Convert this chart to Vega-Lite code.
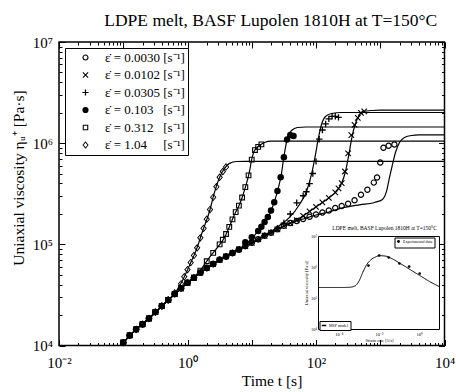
{
"$schema": "https://vega.github.io/schema/vega-lite/v6.json",
"padding": {"left": 11, "top": 11, "right": 0, "bottom": 0},
"width": 385.5,
"height": 303.5,
"config": {
  "font": "Liberation Serif",
  "view": {"stroke": "black", "strokeWidth": 1.5},
  "axis": {"labelColor": "black", "titleColor": "black", "tickColor": "black", "labelFont": "Liberation Serif", "titleFont": "Liberation Serif", "titleFontWeight": "normal", "grid": false, "minExtent": 0}
},
"title": {"text": "LDPE melt, BASF Lupolen 1810H at T=150°C", "font": "Liberation Serif", "fontSize": 17.5, "fontWeight": "normal", "color": "black", "anchor": "middle", "frame": "group", "dx": 19, "offset": -8, "baseline": "alphabetic"},
"datasets": {
"pts": [
{"s":"a","t":0.1,"v":10700},{"s":"a","t":0.1259,"v":12590},{"s":"a","t":0.1585,"v":14450},{"s":"a","t":0.1995,"v":16220},{"s":"a","t":0.2512,"v":18490},{"s":"a","t":0.3162,"v":21380},{"s":"a","t":0.3981,"v":24550},{"s":"a","t":0.5012,"v":28180},{"s":"a","t":0.631,"v":32210},{"s":"a","t":0.7943,"v":36810},{"s":"a","t":1,"v":41690},{"s":"a","t":1.259,"v":46770},{"s":"a","t":1.585,"v":52480},{"s":"a","t":1.995,"v":58210},{"s":"a","t":2.512,"v":63830},{"s":"a","t":3.162,"v":70310},{"s":"a","t":3.981,"v":75860},{"s":"a","t":5.012,"v":82220},{"s":"a","t":6.31,"v":89130},{"s":"a","t":7.943,"v":96160},{"s":"a","t":10,"v":103500},{"s":"a","t":12.59,"v":112200},{"s":"a","t":15.85,"v":121600},{"s":"a","t":19.95,"v":130300},{"s":"a","t":25.12,"v":140600},{"s":"a","t":31.62,"v":152400},{"s":"a","t":39.81,"v":162200},{"s":"a","t":50.12,"v":169800},{"s":"a","t":63.1,"v":177800},
{"s":"a","t":79.43,"v":187100},{"s":"a","t":100,"v":197200},{"s":"a","t":125.9,"v":206500},{"s":"a","t":158.5,"v":216300},{"s":"a","t":199.5,"v":229100},{"s":"a","t":251.2,"v":239900},{"s":"a","t":316.2,"v":251200},{"s":"a","t":398.1,"v":272300},{"s":"a","t":501.2,"v":309000},{"s":"a","t":631,"v":346700},{"s":"a","t":794.3,"v":407400},{"s":"a","t":891.3,"v":457100},{"s":"a","t":1000,"v":645700},{"s":"a","t":1122,"v":901600},{"s":"a","t":1349,"v":944100},{"s":"a","t":1660,"v":970500},
{"s":"b","t":0.1,"v":10700},{"s":"b","t":0.1259,"v":12590},{"s":"b","t":0.1585,"v":14450},{"s":"b","t":0.1995,"v":16220},{"s":"b","t":0.2512,"v":18490},{"s":"b","t":0.3162,"v":21380},{"s":"b","t":0.3981,"v":24550},{"s":"b","t":0.5012,"v":28180},{"s":"b","t":0.631,"v":32210},{"s":"b","t":0.7943,"v":36810},{"s":"b","t":1,"v":41690},{"s":"b","t":1.259,"v":46770},{"s":"b","t":1.585,"v":52480},{"s":"b","t":1.995,"v":58210},{"s":"b","t":2.512,"v":63830},{"s":"b","t":3.162,"v":70310},{"s":"b","t":3.981,"v":75860},{"s":"b","t":5.012,"v":82220},{"s":"b","t":6.31,"v":89130},{"s":"b","t":7.943,"v":96160},{"s":"b","t":10,"v":103500},{"s":"b","t":12.59,"v":112200},{"s":"b","t":15.85,"v":121600},{"s":"b","t":19.95,"v":130300},{"s":"b","t":25.12,"v":140600},{"s":"b","t":31.62,"v":152400},{"s":"b","t":39.81,"v":162200},
{"s":"b","t":50.12,"v":173800},{"s":"b","t":63.1,"v":191000},{"s":"b","t":79.43,"v":211300},{"s":"b","t":100,"v":234400},{"s":"b","t":125.9,"v":259400},{"s":"b","t":158.5,"v":287700},{"s":"b","t":199.5,"v":325800},{"s":"b","t":223.9,"v":358100},{"s":"b","t":251.2,"v":402700},{"s":"b","t":281.8,"v":524800},{"s":"b","t":316.2,"v":794300},{"s":"b","t":354.8,"v":1202000},{"s":"b","t":398.1,"v":1514000},{"s":"b","t":446.7,"v":1778000},{"s":"b","t":501.2,"v":1995000},{"s":"b","t":562.3,"v":2065000},
{"s":"c","t":0.1,"v":10700},{"s":"c","t":0.1259,"v":12590},{"s":"c","t":0.1585,"v":14450},{"s":"c","t":0.1995,"v":16220},{"s":"c","t":0.2512,"v":18490},{"s":"c","t":0.3162,"v":21380},{"s":"c","t":0.3981,"v":24550},{"s":"c","t":0.5012,"v":28180},{"s":"c","t":0.631,"v":32210},{"s":"c","t":0.7943,"v":36810},{"s":"c","t":1,"v":41690},{"s":"c","t":1.259,"v":46770},{"s":"c","t":1.585,"v":52480},{"s":"c","t":1.995,"v":58210},{"s":"c","t":2.512,"v":63830},{"s":"c","t":3.162,"v":70310},{"s":"c","t":3.981,"v":75860},{"s":"c","t":5.012,"v":82220},{"s":"c","t":6.31,"v":89130},{"s":"c","t":7.943,"v":96160},{"s":"c","t":10,"v":103500},{"s":"c","t":12.59,"v":112200},{"s":"c","t":15.85,"v":121600},{"s":"c","t":19.95,"v":130300},
{"s":"c","t":25.12,"v":144500},{"s":"c","t":31.62,"v":162200},{"s":"c","t":39.81,"v":199500},{"s":"c","t":50.12,"v":257000},{"s":"c","t":63.1,"v":302000},{"s":"c","t":70.79,"v":331100},{"s":"c","t":79.43,"v":398100},{"s":"c","t":89.13,"v":501200},{"s":"c","t":100,"v":660700},{"s":"c","t":112.2,"v":1096000},{"s":"c","t":125.9,"v":1349000},{"s":"c","t":141.3,"v":1549000},{"s":"c","t":158.5,"v":1738000},{"s":"c","t":177.8,"v":1841000},{"s":"c","t":199.5,"v":1841000},{"s":"c","t":223.9,"v":1799000},
{"s":"d","t":0.1,"v":10700},{"s":"d","t":0.1259,"v":12590},{"s":"d","t":0.1585,"v":14450},{"s":"d","t":0.1995,"v":16220},{"s":"d","t":0.2512,"v":18490},{"s":"d","t":0.3162,"v":21380},{"s":"d","t":0.3981,"v":24550},{"s":"d","t":0.5012,"v":28180},{"s":"d","t":0.631,"v":32210},{"s":"d","t":0.7943,"v":36810},{"s":"d","t":1,"v":41690},{"s":"d","t":1.259,"v":46770},{"s":"d","t":1.585,"v":52480},{"s":"d","t":1.995,"v":58210},{"s":"d","t":2.512,"v":63830},{"s":"d","t":3.162,"v":70310},{"s":"d","t":3.981,"v":75860},{"s":"d","t":5.012,"v":82220},{"s":"d","t":6.31,"v":89130},
{"s":"d","t":7.943,"v":104700},{"s":"d","t":10,"v":117200},{"s":"d","t":12.59,"v":135800},{"s":"d","t":14.13,"v":148900},{"s":"d","t":15.85,"v":166000},{"s":"d","t":17.78,"v":185800},{"s":"d","t":19.95,"v":216300},{"s":"d","t":22.39,"v":261200},{"s":"d","t":25.12,"v":336500},{"s":"d","t":28.18,"v":460300},{"s":"d","t":31.62,"v":727800},{"s":"d","t":35.48,"v":1089000},{"s":"d","t":39.81,"v":1202000},{"s":"d","t":44.67,"v":1175000},
{"s":"e","t":0.1,"v":10700},{"s":"e","t":0.1259,"v":12590},{"s":"e","t":0.1585,"v":14450},{"s":"e","t":0.1995,"v":16220},{"s":"e","t":0.2512,"v":18490},{"s":"e","t":0.3162,"v":21380},{"s":"e","t":0.3981,"v":24550},{"s":"e","t":0.5012,"v":28180},{"s":"e","t":0.631,"v":32210},{"s":"e","t":0.7943,"v":36810},{"s":"e","t":1,"v":41690},{"s":"e","t":1.259,"v":46770},
{"s":"e","t":1.585,"v":54950},{"s":"e","t":1.995,"v":68080},{"s":"e","t":2.512,"v":82410},{"s":"e","t":3.162,"v":100000},{"s":"e","t":3.548,"v":110900},{"s":"e","t":3.981,"v":126500},{"s":"e","t":4.467,"v":148600},{"s":"e","t":5.012,"v":176600},{"s":"e","t":5.623,"v":208000},{"s":"e","t":6.31,"v":241000},{"s":"e","t":7.079,"v":290400},{"s":"e","t":7.943,"v":367300},{"s":"e","t":8.913,"v":480800},{"s":"e","t":10,"v":687100},{"s":"e","t":11.22,"v":855100},{"s":"e","t":12.59,"v":920400},{"s":"e","t":14.13,"v":972800},
{"s":"f","t":0.1,"v":10700},{"s":"f","t":0.1259,"v":12590},{"s":"f","t":0.1585,"v":14450},{"s":"f","t":0.1995,"v":16220},{"s":"f","t":0.2512,"v":18490},{"s":"f","t":0.3162,"v":21380},{"s":"f","t":0.3981,"v":24550},{"s":"f","t":0.5012,"v":28180},
{"s":"f","t":0.631,"v":33110},{"s":"f","t":0.7943,"v":40740},{"s":"f","t":0.8913,"v":47860},{"s":"f","t":1,"v":56230},{"s":"f","t":1.122,"v":66070},{"s":"f","t":1.259,"v":77620},{"s":"f","t":1.413,"v":92260},{"s":"f","t":1.585,"v":115900},{"s":"f","t":1.778,"v":143900},{"s":"f","t":1.995,"v":177400},{"s":"f","t":2.239,"v":220800},{"s":"f","t":2.512,"v":291700},{"s":"f","t":2.818,"v":371500},{"s":"f","t":3.162,"v":460300},{"s":"f","t":3.548,"v":524800},{"s":"f","t":3.981,"v":582100}
],
"model": [
{"s":"a","t":0.1,"v":10700},{"s":"a","t":0.1585,"v":14450},{"s":"a","t":0.2512,"v":18490},{"s":"a","t":0.3981,"v":24550},{"s":"a","t":0.631,"v":32210},{"s":"a","t":1,"v":41690},{"s":"a","t":1.585,"v":52480},{"s":"a","t":2.512,"v":63830},{"s":"a","t":3.981,"v":75860},{"s":"a","t":6.31,"v":89130},{"s":"a","t":10,"v":103500},{"s":"a","t":15.85,"v":121600},{"s":"a","t":25.12,"v":140600},{"s":"a","t":39.81,"v":162200},{"s":"a","t":63.1,"v":177800},{"s":"a","t":100,"v":195000},{"s":"a","t":158.5,"v":208900},{"s":"a","t":251.2,"v":228000},{"s":"a","t":475.3,"v":246000},{"s":"a","t":814.7,"v":259400},{"s":"a","t":1084,"v":278000},{"s":"a","t":1250,"v":333400},{"s":"a","t":1393,"v":458100},{"s":"a","t":1552,"v":616600},{"s":"a","t":1726,"v":809100},{"s":"a","t":1995,"v":1016000},{"s":"a","t":2382,"v":1138000},{"s":"a","t":3062,"v":1191000},{"s":"a","t":4000,"v":1205000},{"s":"a","t":10000,"v":1205000},
{"s":"b","t":0.1,"v":10700},{"s":"b","t":0.1585,"v":14450},{"s":"b","t":0.2512,"v":18490},{"s":"b","t":0.3981,"v":24550},{"s":"b","t":0.631,"v":32210},{"s":"b","t":1,"v":41690},{"s":"b","t":1.585,"v":52480},{"s":"b","t":2.512,"v":63830},{"s":"b","t":3.981,"v":75860},{"s":"b","t":6.31,"v":89130},{"s":"b","t":10,"v":103500},{"s":"b","t":15.85,"v":121600},{"s":"b","t":25.12,"v":140600},{"s":"b","t":39.81,"v":162200},{"s":"b","t":55.34,"v":180300},{"s":"b","t":79.25,"v":211300},{"s":"b","t":113.2,"v":247700},{"s":"b","t":162.2,"v":290400},{"s":"b","t":208.4,"v":333400},{"s":"b","t":249.5,"v":399900},{"s":"b","t":287.7,"v":524800},{"s":"b","t":320.6,"v":739600},{"s":"b","t":357.3,"v":1089000},{"s":"b","t":397.2,"v":1462000},{"s":"b","t":458.1,"v":1837000},{"s":"b","t":548.3,"v":2056000},{"s":"b","t":731.1,"v":2104000},{"s":"b","t":1000,"v":2118000},{"s":"b","t":10000,"v":2118000},
{"s":"c","t":0.1,"v":10700},{"s":"c","t":0.1585,"v":14450},{"s":"c","t":0.2512,"v":18490},{"s":"c","t":0.3981,"v":24550},{"s":"c","t":0.631,"v":32210},{"s":"c","t":1,"v":41690},{"s":"c","t":1.585,"v":52480},{"s":"c","t":2.512,"v":63830},{"s":"c","t":3.981,"v":75860},{"s":"c","t":6.31,"v":89130},{"s":"c","t":10,"v":103500},{"s":"c","t":15.85,"v":121600},{"s":"c","t":27.04,"v":153800},{"s":"c","t":38.73,"v":184500},{"s":"c","t":55.34,"v":247700},{"s":"c","t":71.12,"v":333400},{"s":"c","t":85.11,"v":490900},{"s":"c","t":98.17,"v":772700},{"s":"c","t":109.4,"v":1138000},{"s":"c","t":121.9,"v":1531000},{"s":"c","t":140.6,"v":1837000},{"s":"c","t":174.2,"v":1963000},{"s":"c","t":250,"v":2009000},{"s":"c","t":10000,"v":2009000},
{"s":"d","t":0.1,"v":10700},{"s":"d","t":0.1585,"v":14450},{"s":"d","t":0.2512,"v":18490},{"s":"d","t":0.3981,"v":24550},{"s":"d","t":0.631,"v":32210},{"s":"d","t":1,"v":41690},{"s":"d","t":1.585,"v":52480},{"s":"d","t":2.512,"v":63830},{"s":"d","t":3.981,"v":75860},{"s":"d","t":6.31,"v":89130},{"s":"d","t":7.709,"v":97000},{"s":"d","t":11.04,"v":122500},{"s":"d","t":14.69,"v":153800},{"s":"d","t":18.88,"v":197200},{"s":"d","t":22.59,"v":265500},{"s":"d","t":26.06,"v":364800},{"s":"d","t":29.04,"v":502300},{"s":"d","t":31.19,"v":690200},{"s":"d","t":33.5,"v":907800},{"s":"d","t":35.97,"v":1138000},{"s":"d","t":41.59,"v":1334000},{"s":"d","t":51.52,"v":1429000},{"s":"d","t":70,"v":1445000},{"s":"d","t":10000,"v":1445000},
{"s":"e","t":0.1,"v":10700},{"s":"e","t":0.1585,"v":14450},{"s":"e","t":0.2512,"v":18490},{"s":"e","t":0.3981,"v":24550},{"s":"e","t":0.631,"v":32210},{"s":"e","t":1,"v":41690},{"s":"e","t":1.538,"v":53950},{"s":"e","t":2.198,"v":74300},{"s":"e","t":2.931,"v":93110},{"s":"e","t":3.767,"v":117000},{"s":"e","t":4.508,"v":150300},{"s":"e","t":5.395,"v":197200},{"s":"e","t":6.442,"v":247700},{"s":"e","t":7.178,"v":297200},{"s":"e","t":8.279,"v":399900},{"s":"e","t":9.226,"v":524800},{"s":"e","t":9.908,"v":674500},{"s":"e","t":11.04,"v":847200},{"s":"e","t":13.21,"v":948400},{"s":"e","t":15.78,"v":1016000},{"s":"e","t":20,"v":1047000},{"s":"e","t":10000,"v":1047000},
{"s":"f","t":0.1,"v":10700},{"s":"f","t":0.1585,"v":14450},{"s":"f","t":0.2512,"v":18490},{"s":"f","t":0.3981,"v":24550},{"s":"f","t":0.631,"v":32500},{"s":"f","t":0.836,"v":43950},{"s":"f","t":1.074,"v":61940},{"s":"f","t":1.38,"v":89130},{"s":"f","t":1.71,"v":134000},{"s":"f","t":2.198,"v":211300},{"s":"f","t":2.63,"v":325800},{"s":"f","t":3.148,"v":458100},{"s":"f","t":3.767,"v":562300},{"s":"f","t":4.508,"v":631000},{"s":"f","t":5.794,"v":659200},{"s":"f","t":7.943,"v":660700},{"s":"f","t":10000,"v":660700}
],
"iModel": [
{"r":0.00001,"v":226500},{"r":0.0001,"v":226500},{"r":0.000316,"v":229100},{"r":0.000631,"v":251200},{"r":0.001,"v":354800},{"r":0.001585,"v":707900},{"r":0.002512,"v":1259000},{"r":0.003981,"v":1778000},{"r":0.00631,"v":2138000},{"r":0.01,"v":2399000},{"r":0.01995,"v":2344000},{"r":0.03981,"v":1995000},{"r":0.1,"v":1413000},{"r":0.3162,"v":891300},{"r":1,"v":562300},{"r":3.162,"v":354800},{"r":10,"v":239900}
],
"iData": [
{"r":0.003,"v":1150000},{"r":0.0102,"v":2440000},{"r":0.0305,"v":2100000},{"r":0.103,"v":1350000},{"r":0.312,"v":1070000},{"r":1.04,"v":640000}
],
"iBox": [
{"x1":0.00001,"x2":10,"y1":10000,"y2":10000000,"title":"LDPE melt, BASF Lupolen 1810H at T=150°C","tx":0.019}
]
},
"layer": [
  {
    "data": {"name": "model"},
    "mark": {"type": "line", "color": "black", "strokeWidth": 1.2, "interpolate": "monotone", "clip": true},
    "encoding": {
      "x": {"field": "t", "type": "quantitative", "scale": {"type": "log", "domain": [0.01, 10000], "nice": false},
            "axis": {"orient": "bottom", "values": [0.01, 1, 100, 10000], "labelExpr": "datum.value < 0.1 ? '10⁻²' : datum.value < 10 ? '10⁰' : datum.value < 1000 ? '10²' : '10⁴'", "ticks": false, "domain": false, "labelFontSize": 15, "labelBaseline": "alphabetic", "labelPadding": 22, "labelFlush": false, "labelOverlap": false, "title": "Time t [s]", "titleFontSize": 15.5, "titleX": 212.5, "titleY": 40, "titleBaseline": "alphabetic"}},
      "y": {"field": "v", "type": "quantitative", "scale": {"type": "log", "domain": [10000, 10000000], "nice": false},
            "axis": {"orient": "left", "values": [10000, 100000, 1000000, 10000000], "labelExpr": "datum.value < 50000 ? '10⁴' : datum.value < 500000 ? '10⁵' : datum.value < 5000000 ? '10⁶' : '10⁷'", "ticks": false, "domain": false, "labelFontSize": 15, "labelBaseline": "alphabetic", "labelOffset": 5, "labelPadding": 6.5, "labelFlush": false, "labelOverlap": false, "title": "Uniaxial viscosity \u03b7\u1d64\u207a [Pa\u00b7s]", "titleFontSize": 15.5, "titleX": -35.5, "titleY": 135.5, "titleBaseline": "alphabetic"}},
      "detail": {"field": "s", "type": "nominal"}
    }
  },
  {
    "data": {"name": "pts"},
    "mark": {"type": "point", "filled": true, "size": 42, "color": "black", "opacity": 1},
    "encoding": {
      "x": {"field": "t", "type": "quantitative", "scale": {"type": "log", "domain": [0.01, 10000], "nice": false},
            "axis": {"orient": "bottom", "values": [0.01,0.02,0.03,0.04,0.05,0.06,0.07,0.08,0.09,0.1,0.2,0.3,0.4,0.5,0.6,0.7,0.8,0.9,1,2,3,4,5,6,7,8,9,10,20,30,40,50,60,70,80,90,100,200,300,400,500,600,700,800,900,1000,2000,3000,4000,5000,6000,7000,8000,9000,10000], "labels": false, "domain": false, "title": null, "tickColor": "black", "tickWidth": 1, "tickSize": {"condition": {"test": "abs(log(datum.value)/LN10 - round(log(datum.value)/LN10)) < 0.01", "value": -6}, "value": -3}}},
      "y": {"field": "v", "type": "quantitative", "scale": {"type": "log", "domain": [10000, 10000000], "nice": false},
            "axis": {"orient": "left", "values": [10000,20000,30000,40000,50000,60000,70000,80000,90000,100000,200000,300000,400000,500000,600000,700000,800000,900000,1000000,2000000,3000000,4000000,5000000,6000000,7000000,8000000,9000000,10000000], "labels": false, "domain": false, "title": null, "tickColor": "black", "tickWidth": 1, "tickSize": {"condition": {"test": "abs(log(datum.value)/LN10 - round(log(datum.value)/LN10)) < 0.01", "value": -6}, "value": -3}}},
      "shape": {"field": "s", "type": "nominal",
                "scale": {"domain": ["a","b","c","d","e","f"], "range": [
                  "M1,0A1,1,0,1,0,-1,0A1,1,0,1,0,1,0ZM0.62,0A0.62,0.62,0,1,1,-0.62,0A0.62,0.62,0,1,1,0.62,0Z",
                  "M-0.73,-0.97L0.97,0.73L0.73,0.97L-0.97,-0.73ZM-0.97,0.73L0.73,-0.97L0.97,-0.73L-0.73,0.97Z",
                  "M-1,-0.2L1,-0.2L1,0.2L-1,0.2ZM-0.2,-1L0.2,-1L0.2,1L-0.2,1Z",
                  "circle",
                  "M-0.9,-0.9L0.9,-0.9L0.9,0.9L-0.9,0.9ZM-0.56,-0.56L-0.56,0.56L0.56,0.56L0.56,-0.56Z",
                  "M0,-1.2L1,0L0,1.2L-1,0ZM0,-0.76L-0.63,0L0,0.76L0.63,0Z"]},
                "legend": {"title": null, "orient": "top-left", "offset": 5.5, "padding": 3, "strokeColor": "black", "fillColor": "white", "labelFont": "Liberation Serif", "labelFontSize": 13, "labelColor": "black", "labelLimit": 300, "symbolSize": 38, "symbolFillColor": "black", "symbolStrokeWidth": 0, "symbolOffset": 11, "labelOffset": 13, "rowPadding": 3.5,
                           "labelExpr": "datum.label == 'a' ? '\u03b5\u0307 = 0.0030 [s\u207b\u00b9]' : datum.label == 'b' ? '\u03b5\u0307 = 0.0102 [s\u207b\u00b9]' : datum.label == 'c' ? '\u03b5\u0307 = 0.0305 [s\u207b\u00b9]' : datum.label == 'd' ? '\u03b5\u0307 = 0.103\u2007 [s\u207b\u00b9]' : datum.label == 'e' ? '\u03b5\u0307 = 0.312\u2007 [s\u207b\u00b9]' : '\u03b5\u0307 = 1.04\u2007\u2007 [s\u207b\u00b9]'"}}
    }
  },
  {
    "data": {"name": "model"},
    "mark": {"type": "point", "opacity": 0},
    "encoding": {
      "x": {"field": "t", "type": "quantitative", "scale": {"type": "log", "domain": [0.01, 10000], "nice": false},
            "axis": {"orient": "top", "values": [0.01,0.02,0.03,0.04,0.05,0.06,0.07,0.08,0.09,0.1,0.2,0.3,0.4,0.5,0.6,0.7,0.8,0.9,1,2,3,4,5,6,7,8,9,10,20,30,40,50,60,70,80,90,100,200,300,400,500,600,700,800,900,1000,2000,3000,4000,5000,6000,7000,8000,9000,10000], "labels": false, "domain": false, "title": null, "tickColor": "black", "tickWidth": 1, "tickSize": {"condition": {"test": "abs(log(datum.value)/LN10 - round(log(datum.value)/LN10)) < 0.01", "value": -6}, "value": -3}}},
      "y": {"field": "v", "type": "quantitative", "scale": {"type": "log", "domain": [10000, 10000000], "nice": false},
            "axis": {"orient": "right", "values": [10000,20000,30000,40000,50000,60000,70000,80000,90000,100000,200000,300000,400000,500000,600000,700000,800000,900000,1000000,2000000,3000000,4000000,5000000,6000000,7000000,8000000,9000000,10000000], "labels": false, "domain": false, "title": null, "tickColor": "black", "tickWidth": 1, "tickSize": {"condition": {"test": "abs(log(datum.value)/LN10 - round(log(datum.value)/LN10)) < 0.01", "value": -6}, "value": -3}}}
    }
  },
  {
    "data": {"name": "iBox"},
    "mark": {"type": "rect", "fill": "white", "stroke": "black", "strokeWidth": 1},
    "encoding": {
      "x": {"field": "x1", "type": "quantitative", "scale": {"type": "log", "domain": [0.00001, 10], "range": [259.5, 380.5], "nice": false},
            "axis": {"orient": "bottom", "offset": -16, "values": [0.0001, 0.01, 1], "labelExpr": "datum.value < 0.001 ? '10⁻⁴' : datum.value < 0.1 ? '10⁻²' : '10⁰'", "ticks": false, "domain": false, "labelFontSize": 4.5, "labelPadding": 2, "labelFlush": false, "title": "Strain rate [1/s]", "titleFontSize": 4.5, "titlePadding": 1}},
      "x2": {"field": "x2"},
      "y": {"field": "y1", "type": "quantitative", "scale": {"type": "log", "domain": [10000, 10000000], "range": [287.5, 194.5], "nice": false},
            "axis": {"orient": "left", "offset": -259.5, "values": [10000, 100000, 1000000, 10000000], "labelExpr": "datum.value < 50000 ? '10⁴' : datum.value < 500000 ? '10⁵' : datum.value < 5000000 ? '10⁶' : '10⁷'", "ticks": false, "domain": false, "labelFontSize": 4.5, "labelPadding": 2, "labelFlush": false, "title": "Uniaxial viscosity [Pa s]", "titleFontSize": 4.5, "titlePadding": 2}},
      "y2": {"field": "y2"}
    }
  },
  {
    "data": {"name": "iBox"},
    "mark": {"type": "text", "font": "Liberation Serif", "fontSize": 5.5, "color": "black", "align": "center", "baseline": "alphabetic", "dy": -7},
    "encoding": {
      "x": {"field": "tx", "type": "quantitative", "scale": {"type": "log", "domain": [0.00001, 10], "range": [259.5, 380.5], "nice": false}, "axis": null},
      "y": {"field": "y2", "type": "quantitative", "scale": {"type": "log", "domain": [10000, 10000000], "range": [287.5, 194.5], "nice": false}, "axis": null},
      "text": {"field": "title"}
    }
  },
  {
    "data": {"name": "iModel"},
    "mark": {"type": "line", "color": "black", "strokeWidth": 1, "interpolate": "monotone"},
    "encoding": {
      "x": {"field": "r", "type": "quantitative", "scale": {"type": "log", "domain": [0.00001, 10], "range": [259.5, 380.5], "nice": false}, "axis": null},
      "y": {"field": "v", "type": "quantitative", "scale": {"type": "log", "domain": [10000, 10000000], "range": [287.5, 194.5], "nice": false}, "axis": null},
      "strokeDash": {"datum": "MSF model", "scale": {"range": [[1, 0]]},
                     "legend": {"title": null, "orient": "none", "legendX": 260.5, "legendY": 279, "padding": 1.5, "strokeColor": "black", "fillColor": "white", "labelFontSize": 4, "labelFont": "Liberation Serif", "labelColor": "black", "symbolStrokeColor": "black", "symbolSize": 20, "labelOffset": 2}}
    }
  },
  {
    "data": {"name": "iData"},
    "mark": {"type": "point", "filled": true, "size": 7, "color": "black", "opacity": 1},
    "encoding": {
      "x": {"field": "r", "type": "quantitative", "scale": {"type": "log", "domain": [0.00001, 10], "range": [259.5, 380.5], "nice": false}, "axis": null},
      "y": {"field": "v", "type": "quantitative", "scale": {"type": "log", "domain": [10000, 10000000], "range": [287.5, 194.5], "nice": false}, "axis": null},
      "shape": {"datum": "Experimental data", "scale": {"range": ["circle"]},
                "legend": {"title": null, "orient": "none", "legendX": 335.5, "legendY": 195.5, "padding": 1.5, "strokeColor": "black", "fillColor": "white", "labelFontSize": 4, "labelFont": "Liberation Serif", "labelColor": "black", "symbolSize": 8, "symbolFillColor": "black", "symbolStrokeColor": "black", "labelOffset": 2}}
    }
  }
],
"resolve": {"scale": {"x": "independent", "y": "independent", "shape": "independent", "strokeDash": "independent"}, "axis": {"x": "independent", "y": "independent"}, "legend": {"shape": "independent", "strokeDash": "independent"}}
}
